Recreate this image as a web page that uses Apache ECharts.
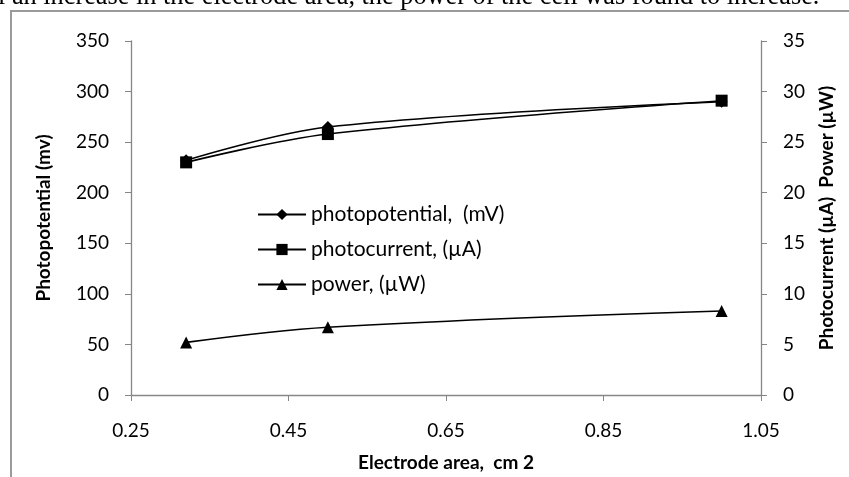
<!DOCTYPE html>
<html>
<head>
<meta charset="utf-8">
<script src="https://cdn.jsdelivr.net/npm/echarts@6/dist/echarts.min.js"></script>
<style>
  html, body { margin: 0; padding: 0; background: #fff; }
  #chart { width: 849px; height: 477px; }
</style>
</head>
<body>
<div id="chart"></div>
<script>
const areas = [0.32, 0.5, 1.0]
const photopotential = [232, 265, 290]
const photocurrent = [23.0, 25.8, 29.1]
const power = [5.2, 6.7, 8.3]

const names = ['photopotential,  (mV)', 'photocurrent, (\u00b5A)', 'power, (\u00b5W)']

const font = 'Lato, "Open Sans", sans-serif'
const axisGrey = '#868686'

const pairs = (xs, ys) => xs.map((x, i) => [x, ys[i]])

const chart = echarts.init(document.getElementById('chart'))

const yAxisBase = {
	type: 'value',
	nameLocation: 'middle',
	nameRotate: 90,
	nameTextStyle: { fontFamily: font, fontWeight: 'bold', fontSize: 19, color: '#000' },
	axisLine: { show: true, lineStyle: { color: axisGrey, width: 1.3 } },
	axisTick: { show: true, inside: false, length: 6, lineStyle: { color: axisGrey } },
	axisLabel: { fontFamily: font, fontSize: 19, color: '#000', margin: 22 },
	splitLine: { show: false }
}

const lineSeries = (name, data, symbol, size, yAxisIndex) => ({
	name,
	type: 'line',
	data,
	yAxisIndex,
	smooth: 0.35,
	symbol,
	symbolSize: size,
	lineStyle: { color: '#000', width: 1.6 },
	itemStyle: { color: '#000' }
})

const options = {
	animation: false,
	grid: { left: 131, right: 88, top: 41, bottom: 80 },
	legend: {
		orient: 'vertical',
		left: 252,
		top: 199,
		itemWidth: 48,
		itemHeight: 14,
		itemGap: 14,
		textStyle: { fontFamily: font, fontSize: 21, color: '#000' },
		data: names
	},
	xAxis: {
		type: 'value',
		min: 0.25,
		max: 1.05,
		interval: 0.2,
		name: 'Electrode area,  cm 2',
		nameLocation: 'middle',
		nameGap: 58,
		nameTextStyle: { fontFamily: font, fontWeight: 'bold', fontSize: 19, color: '#000' },
		axisLine: { show: true, onZero: false, lineStyle: { color: axisGrey, width: 1.3 } },
		axisTick: { show: true, length: 6, lineStyle: { color: axisGrey } },
		axisLabel: {
			fontFamily: font, fontSize: 19, color: '#000', margin: 26,
			formatter: v => v.toFixed(2)
		},
		splitLine: { show: false }
	},
	yAxis: [
		Object.assign({}, yAxisBase, {
			min: 0, max: 350, interval: 50,
			position: 'left',
			name: 'Photopotential (mv)',
			nameGap: 78
		}),
		Object.assign({}, yAxisBase, {
			min: 0, max: 35, interval: 5,
			position: 'right',
			name: 'Photocurrent (\u00b5A)  Power (\u00b5W)',
			nameGap: 56
		})
	],
	graphic: [
		{
			type: 'rect',
			shape: { x: 11, y: 11, width: 900, height: 520 },
			style: { fill: 'none', stroke: '#9a9a9a', lineWidth: 2 },
			silent: true
		},
		{
			type: 'text',
			left: -2,
			top: -16,
			style: {
				text: 'l an increase in the electrode area, the power of the cell was found to increase.',
				font: '26.3px "Liberation Serif", "Times New Roman", serif',
				fill: '#000'
			}
		}
	],
	series: [
		lineSeries(names[0], pairs(areas, photopotential), 'diamond', 12, 0),
		lineSeries(names[1], pairs(areas, photocurrent), 'rect', 12, 1),
		lineSeries(names[2], pairs(areas, power), 'triangle', 12, 1)
	]
}

chart.setOption(options)
</script>
</body>
</html>
